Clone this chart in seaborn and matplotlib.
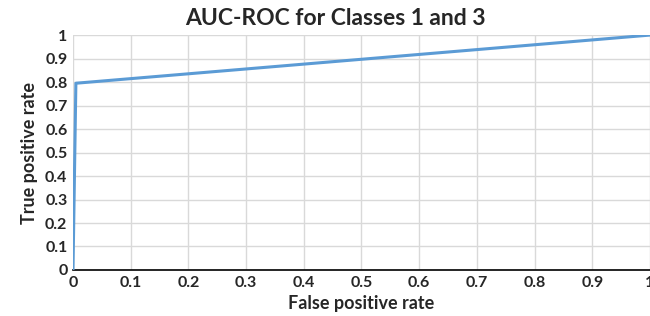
import matplotlib
matplotlib.use('Agg')

import seaborn as sns
import matplotlib.pyplot as plt
import pandas as pd

# ROC points
fpr = [0.0, 0.005, 1.0]
tpr = [0.0, 0.795, 1.0]
ticks = [0, 0.1, 0.2, 0.3, 0.4, 0.5, 0.6, 0.7, 0.8, 0.9, 1]
tick_labels = ['0', '0.1', '0.2', '0.3', '0.4', '0.5', '0.6', '0.7', '0.8', '0.9', '1']

sns.set_style('white')
plt.rcParams['font.family'] = ['Lato', 'DejaVu Sans']

df = pd.DataFrame({'fpr': fpr, 'tpr': tpr})

fig = plt.figure(figsize=(6.5, 3.16), dpi=100)
ax = fig.add_axes([0.1123, 0.1456, 0.8877, 0.7434])

sns.lineplot(data=df, x='fpr', y='tpr', ax=ax, color='#5B9BD5', linewidth=2.2,
             sort=False, estimator=None, zorder=3)

ax.set_xlim(0, 1)
ax.set_ylim(0, 1)
ax.set_xticks(ticks)
ax.set_xticklabels(tick_labels, fontweight='bold', fontsize=11.5)
ax.set_yticks(ticks)
ax.set_yticklabels(tick_labels, fontweight='bold', fontsize=11.5)
ax.tick_params(axis='both', length=0, pad=4)
ax.grid(True, color='#D9D9D9', linewidth=1)
for side in ['top', 'right', 'left']:
    ax.spines[side].set_visible(False)
ax.spines['bottom'].set_color('#000000')
ax.spines['bottom'].set_linewidth(1.2)

ax.set_xlabel('False positive rate', fontweight='bold', fontsize=13, labelpad=4)
ax.set_ylabel('True positive rate', fontweight='bold', fontsize=13, labelpad=5)
ax.set_title('AUC-ROC for Classes 1 and 3', fontweight='bold', fontsize=16.5, pad=7,
             x=0.455)

fig.savefig('out.png', dpi=100)
plt.close('all')
